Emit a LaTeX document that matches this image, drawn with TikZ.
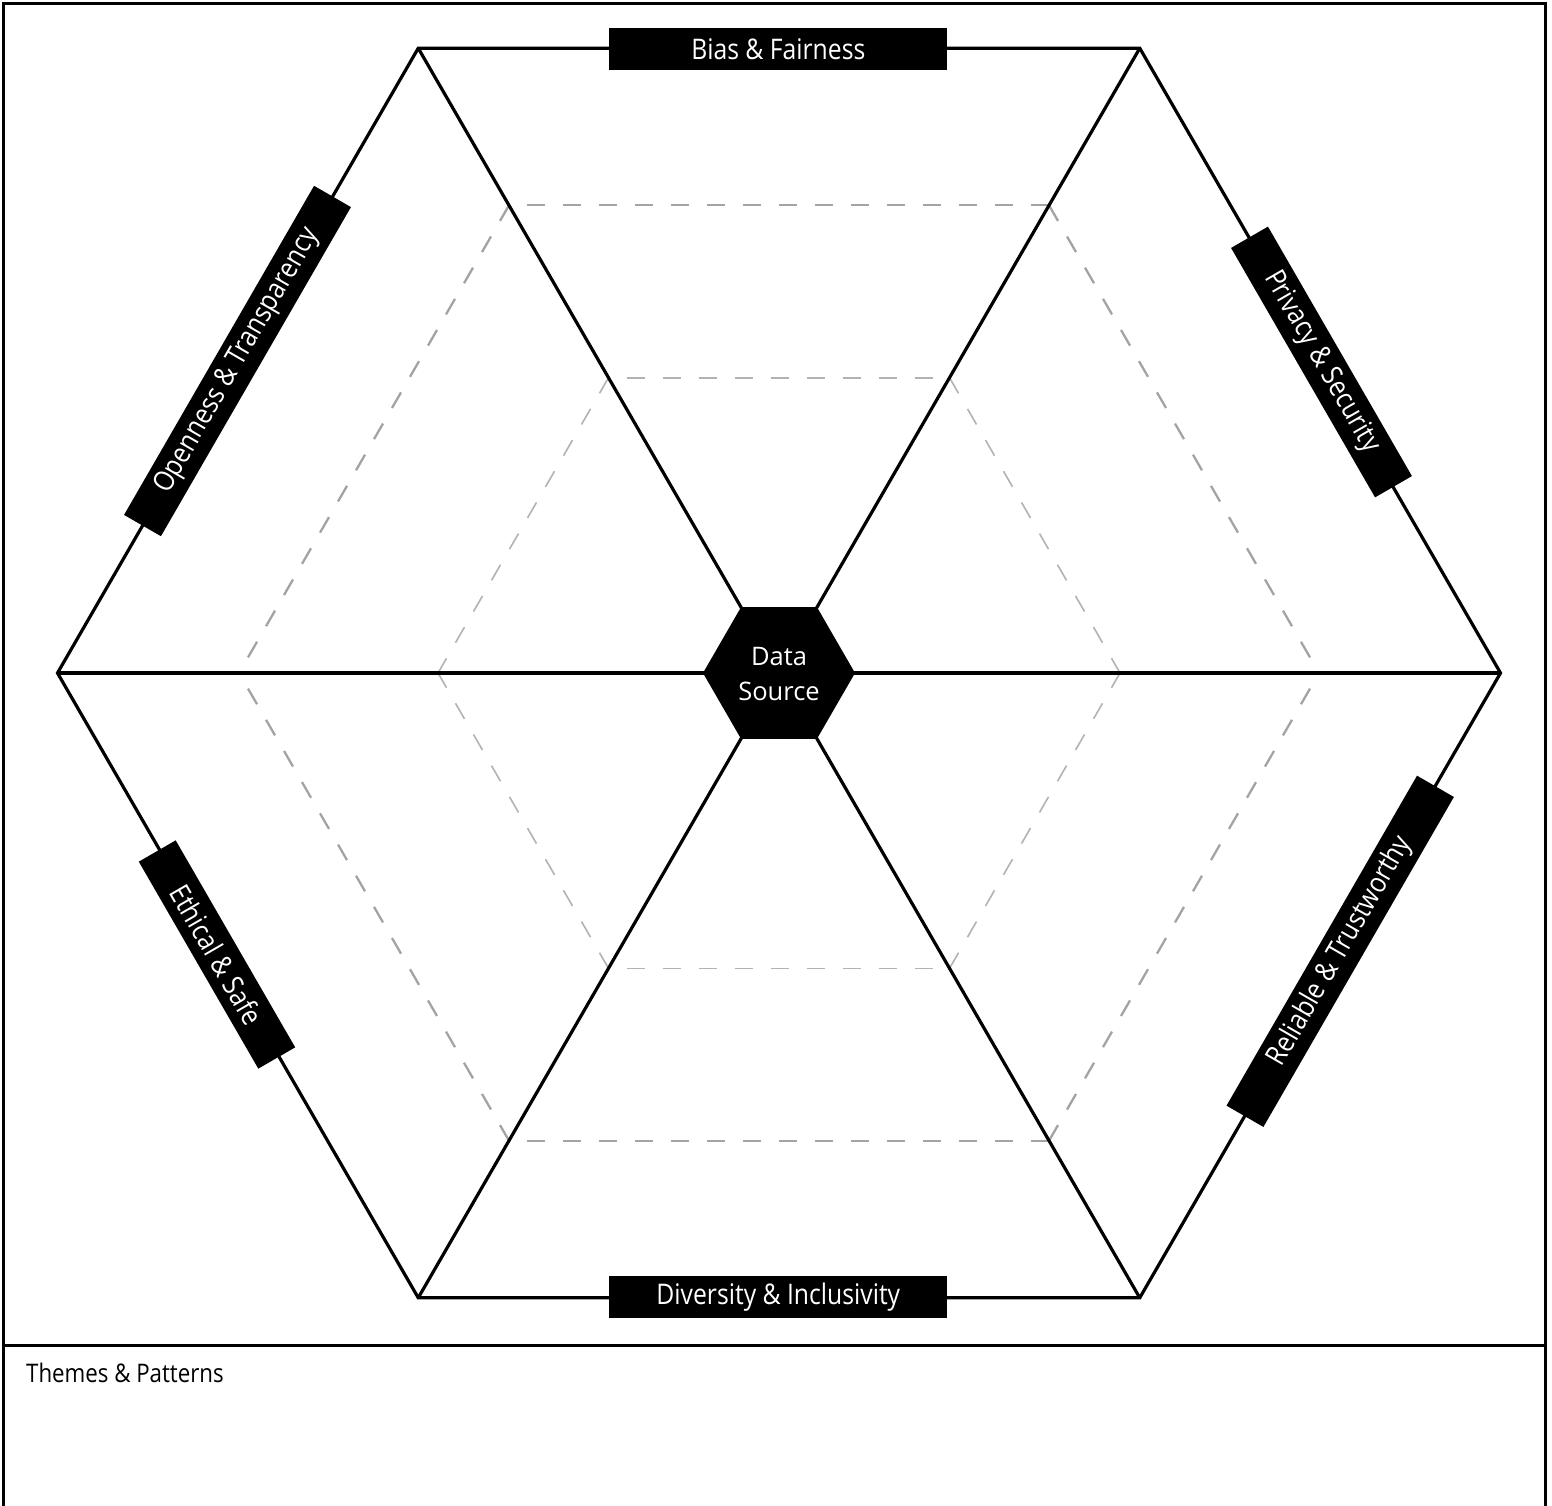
\documentclass[tikz,border=0pt]{standalone}
\usepackage{fontspec}
\setmainfont{Open Sans}[FakeStretch=0.87]
\newfontfamily\centrefont{Open Sans}
\begin{document}
\begin{tikzpicture}[x=1pt,y=-1pt,
  frame/.style={line width=3pt, black},
  hexedge/.style={line width=3.2pt, black},
  dashout/.style={line width=2.3pt, color=black!36, dash pattern=on 18pt off 18pt},
  dashin/.style={line width=1.6pt, color=black!30, dash pattern=on 18pt off 18pt},
  tag/.style={fill=black, text=white, inner sep=0pt, minimum height=42.6pt,
              font=\fontsize{28.4}{30}\selectfont},
  centertxt/.style={text=white, align=center, inner sep=0pt,
              font=\centrefont\fontsize{25.5}{35}\selectfont},
]
\useasboundingbox (0,0) rectangle (1552,1506);

% frame
\coordinate (fbl) at (3.5,1512);
\coordinate (ftl) at (3.5,3.5);
\coordinate (ftr) at (1545.5,3.5);
\coordinate (fbr) at (1545.5,1512);
\coordinate (dl) at (3.5,1345);
\coordinate (dr) at (1545.5,1345);
\draw[frame] (fbl) -- (ftl) -- (ftr) -- (fbr);
\draw[frame] (dl) -- (dr);

% hexagon vertices
\coordinate (O) at (779,673);
\coordinate (V0) at (1500.5,673);
\coordinate (V1) at (1139.75,48.2);
\coordinate (V2) at (418.25,48.2);
\coordinate (V3) at (57.5,673);
\coordinate (V4) at (418.25,1297.8);
\coordinate (V5) at (1139.75,1297.8);

% dashed hexagon r=540
\coordinate (A0) at (1319,673);
\coordinate (A1) at (1049,205.3);
\coordinate (A2) at (509,205.3);
\coordinate (A3) at (239,673);
\coordinate (A4) at (509,1140.7);
\coordinate (A5) at (1049,1140.7);
% dashed hexagon r=341
\coordinate (B0) at (1120,673);
\coordinate (B1) at (949.5,377.7);
\coordinate (B2) at (608.5,377.7);
\coordinate (B3) at (438,673);
\coordinate (B4) at (608.5,968.3);
\coordinate (B5) at (949.5,968.3);

\draw[dashout, dash phase=18pt] (A2) -- (A1);
\draw[dashout] (A1) -- (A0);
\draw[dashout] (A5) -- (A0);
\draw[dashout, dash phase=18pt] (A4) -- (A5);
\draw[dashout] (A4) -- (A3);
\draw[dashout] (A2) -- (A3);

\draw[dashin, dash phase=18pt] (B2) -- (B1);
\draw[dashin] (B1) -- (B0);
\draw[dashin] (B5) -- (B0);
\draw[dashin, dash phase=18pt] (B4) -- (B5);
\draw[dashin] (B4) -- (B3);
\draw[dashin] (B2) -- (B3);

% outer hexagon and spokes
\draw[hexedge, line join=miter] (V0) -- (V1) -- (V2) -- (V3) -- (V4) -- (V5) -- cycle;
\draw[hexedge] (V0) -- (V3);
\draw[hexedge] (V1) -- (V4);
\draw[hexedge] (V2) -- (V5);

% centre hexagon
\fill[black] (703,673) -- (741,607.2) -- (817,607.2) -- (855,673) -- (817,738.8) -- (741,738.8) -- cycle;
\node[centertxt] (ds) at (779,674) {Data\\Source};

% labels
\node[tag, minimum width=338pt] (bias) at (778.3,49) {Bias \& Fairness};
\node[tag, minimum width=338pt] (div) at (778.3,1297) {Diversity \& Inclusivity};
\node[tag, minimum width=380pt, rotate=60] (open) at (237.5,361) {Openness \& Transparency};
\node[tag, minimum width=288pt, rotate=-60] (priv) at (1321.5,362) {Privacy \& Security};
\node[tag, minimum width=381pt, rotate=60] (rel) at (1340.2,951.3) {Reliable \& Trustworthy};
\node[tag, minimum width=239pt, rotate=-60] (eth) at (217,954.5) {Ethical \& Safe};

% themes
\node[anchor=base west, inner sep=0pt, font=\fontsize{25.6}{28}\selectfont] (themes) at (26,1382) {Themes \& Patterns};
\end{tikzpicture}
\end{document}
